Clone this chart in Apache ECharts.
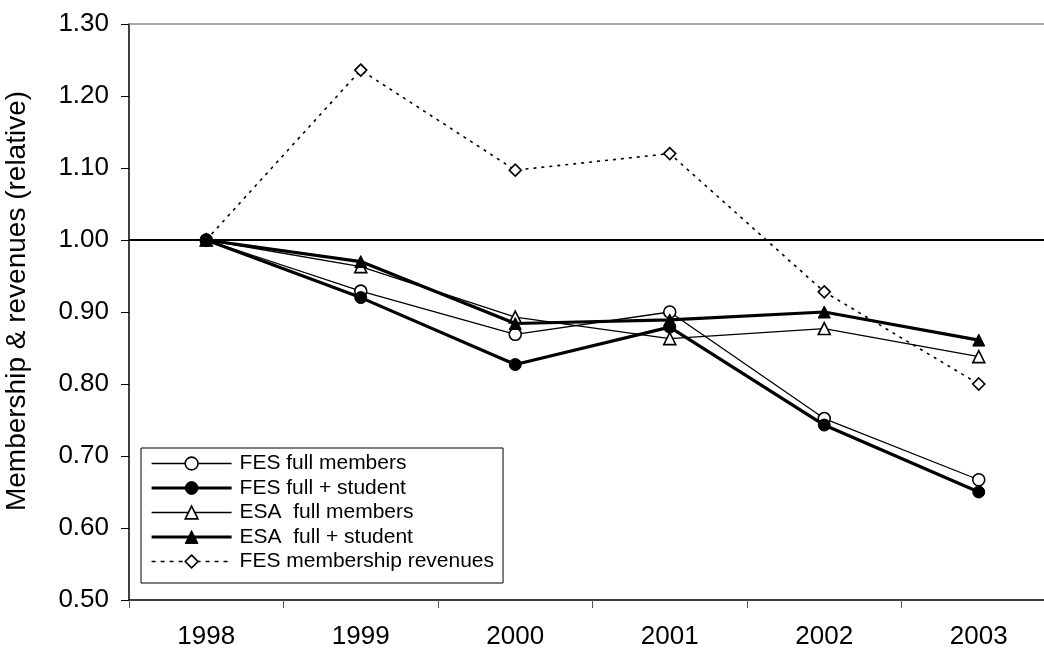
<!DOCTYPE html>
<html>
<head>
<meta charset="utf-8">
<title>Membership & revenues (relative)</title>
<script src="https://cdn.jsdelivr.net/npm/echarts@6/dist/echarts.min.js"></script>
<style>
  html, body { margin: 0; padding: 0; background: #ffffff; }
  #chart { width: 1044px; height: 650px; }
</style>
</head>
<body>
<div id="chart"></div>
<script>
// Years on the category axis
const years = ['1998', '1999', '2000', '2001', '2002', '2003'];

// Values relative to 1998 (1998 = 1.00)
const fesFull         = [1.000, 0.929, 0.869, 0.900, 0.752, 0.667];
const fesFullStudent  = [1.000, 0.920, 0.827, 0.879, 0.743, 0.650];
const esaFull         = [1.000, 0.963, 0.893, 0.863, 0.877, 0.838];
const esaFullStudent  = [1.000, 0.970, 0.884, 0.889, 0.900, 0.861];
const fesRevenue      = [1.000, 1.236, 1.097, 1.120, 0.928, 0.800];

// Series names as shown in the legend
const seriesNames = ['FES full members', 'FES full + student', 'ESA  full members', 'ESA  full + student', 'FES membership revenues'];

// Value axis range
const yMin = 0.5;
const yMax = 1.3;
const yStep = 0.1;
const baseline = 1.0;

const FONT = '"Liberation Sans", Arial, sans-serif';

const openMarker = { color: '#ffffff', borderColor: '#000000', borderWidth: 1.6 };
const solidMarker = { color: '#000000', borderColor: '#000000', borderWidth: 1 };
const thinLine = { color: '#000000', width: 1.3 };
const thickLine = { color: '#000000', width: 3.2 };
const dashLine = { color: '#000000', width: 1.6, type: [3, 5] };

function lineSeries(name, data, opts) {
  return Object.assign({
    name: name,
    type: 'line',
    data: data,
    symbolSize: 12,
    showAllSymbol: true,
    animation: false,
    emphasis: { disabled: true }
  }, opts);
}

const chart = echarts.init(document.getElementById('chart'), null, { renderer: 'canvas' });

chart.setOption({
  animation: false,
  backgroundColor: '#ffffff',
  textStyle: { fontFamily: FONT, color: '#000000' },
  // the plot area runs slightly past the right edge of the canvas
  grid: { left: 129, top: 24, right: -12, bottom: 50, containLabel: false, outerBoundsMode: 'none' },
  legend: {
    orient: 'vertical',
    left: 141,
    top: 448,
    padding: [5, 9, 11, 9],
    itemWidth: 80,
    itemHeight: 16,
    itemGap: 3.5,
    borderColor: '#000000',
    borderWidth: 1,
    backgroundColor: '#ffffff',
    selectedMode: false,
    textStyle: { fontFamily: FONT, fontSize: 21, color: '#000000', padding: [0, 0, 0, 3] },
    data: [
      { name: seriesNames[0], lineStyle: thinLine, itemStyle: openMarker },
      { name: seriesNames[1], lineStyle: thickLine, itemStyle: solidMarker },
      { name: seriesNames[2], lineStyle: thinLine, itemStyle: openMarker },
      { name: seriesNames[3], lineStyle: thickLine, itemStyle: solidMarker },
      { name: seriesNames[4], lineStyle: { color: '#000000', width: 1.6, type: [4, 5] }, itemStyle: openMarker }
    ]
  },
  xAxis: [
    {
      type: 'category',
      data: years,
      boundaryGap: true,
      axisLine: { show: true, lineStyle: { color: '#000000', width: 1.5 } },
      axisTick: { show: true, length: 8, inside: false, lineStyle: { color: '#555555', width: 1 } },
      axisLabel: { fontFamily: FONT, fontSize: 26, color: '#000000', margin: 24 },
      splitLine: { show: false }
    },
    {
      // top edge of the plot area
      type: 'category',
      data: years,
      position: 'top',
      boundaryGap: true,
      axisLine: { show: true, lineStyle: { color: '#8c8c8c', width: 1.5 } },
      axisTick: { show: false },
      axisLabel: { show: false },
      splitLine: { show: false }
    }
  ],
  yAxis: {
    type: 'value',
    min: yMin,
    max: yMax,
    interval: yStep,
    name: 'Membership & revenues (relative)',
    nameLocation: 'middle',
    nameGap: 98,
    nameRotate: 90,
    nameTextStyle: { fontFamily: FONT, fontSize: 28, color: '#000000', padding: [0, 0, 0, 22] },
    axisLine: { show: true, lineStyle: { color: '#000000', width: 1.5 } },
    axisTick: { show: true, length: 8, inside: false, lineStyle: { color: '#000000', width: 1 } },
    axisLabel: {
      fontFamily: FONT, fontSize: 26, color: '#000000', margin: 20,
      formatter: function (v) { return v.toFixed(2); }
    },
    splitLine: { show: false }
  },
  series: [
    lineSeries(seriesNames[0], fesFull, {
      symbol: 'circle',
      lineStyle: thinLine,
      itemStyle: openMarker,
      z: 3
    }),
    lineSeries(seriesNames[1], fesFullStudent, {
      symbol: 'circle',
      lineStyle: thickLine,
      itemStyle: solidMarker,
      z: 4
    }),
    lineSeries(seriesNames[2], esaFull, {
      symbol: 'triangle',
      lineStyle: thinLine,
      itemStyle: openMarker,
      z: 3
    }),
    lineSeries(seriesNames[3], esaFullStudent, {
      symbol: 'triangle',
      lineStyle: thickLine,
      itemStyle: solidMarker,
      z: 4
    }),
    lineSeries(seriesNames[4], fesRevenue, {
      symbol: 'diamond',
      symbolSize: 12,
      lineStyle: dashLine,
      itemStyle: openMarker,
      z: 2,
      markLine: {
        silent: true,
        symbol: ['none', 'none'],
        label: { show: false },
        lineStyle: { color: '#000000', width: 2, type: 'solid' },
        data: [{ yAxis: baseline }],
        animation: false
      }
    })
  ]
});
</script>
</body>
</html>
